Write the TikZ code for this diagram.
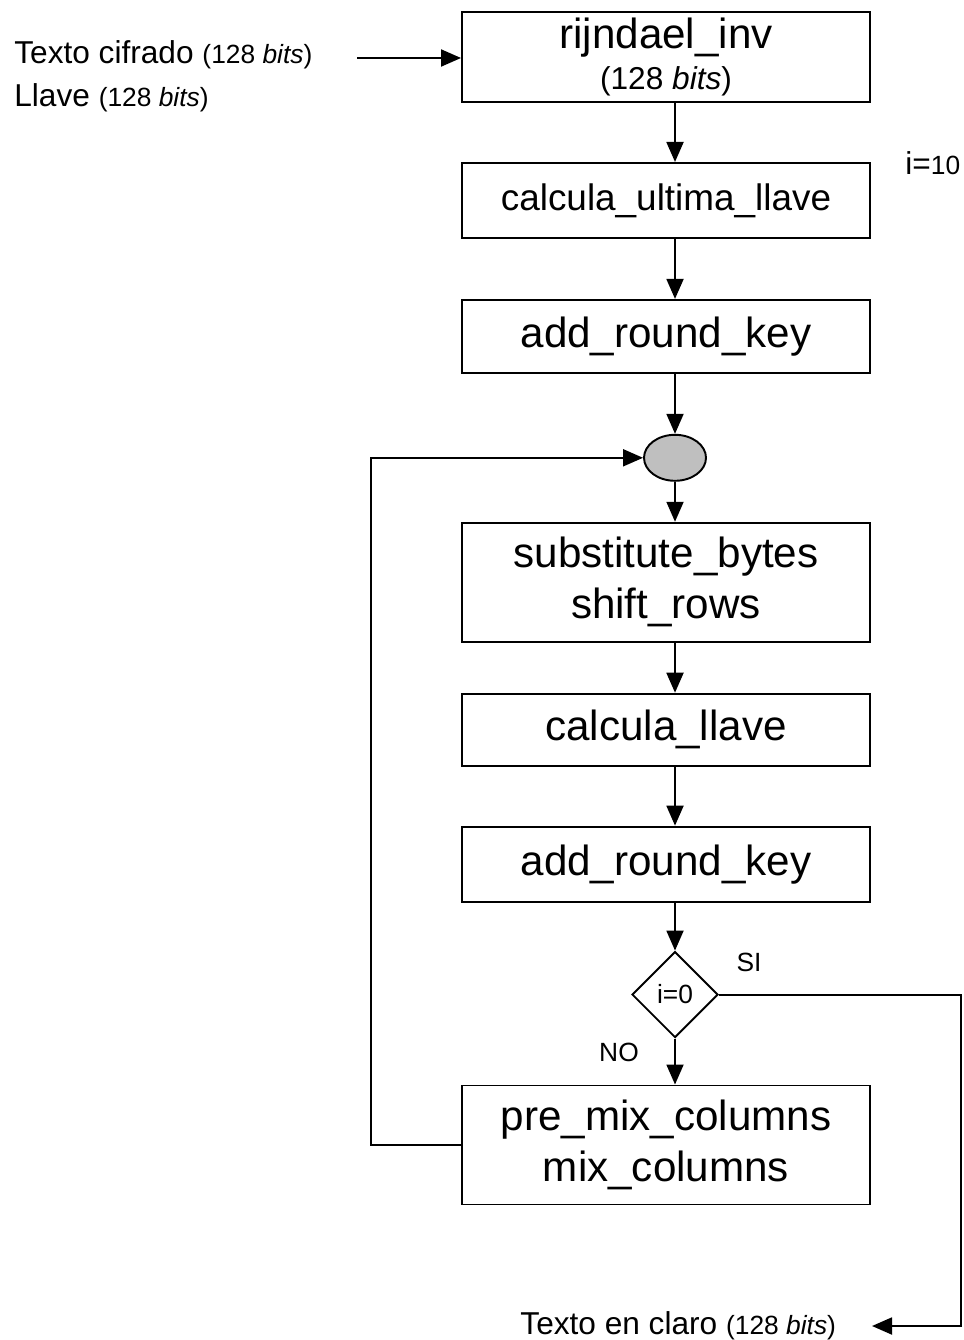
\documentclass[tikz,border=0pt]{standalone}
\usepackage{fontspec}
\setmainfont{Liberation Sans}
\usetikzlibrary{positioning,shapes.geometric,arrows.meta}
\tikzset{
    block/.style = {draw, rectangle, line width=1.1pt,
        minimum width=8.16cm, align=center,
        font=\fontsize{24}{29}\selectfont},
    merge/.style = {draw, ellipse, line width=1.1pt, fill=black!25,
        minimum width=1.24cm, minimum height=0.92cm, inner sep=0pt},
    decision/.style = {draw, diamond, line width=1.1pt, inner sep=0pt,
        minimum width=1.72cm, minimum height=1.72cm,
        font=\fontsize{15}{18}\selectfont},
    arrow/.style = {draw, line width=1.1pt, -{Triangle[length=0.4cm,width=0.34cm]}},
    lbl/.style = {inner sep=0pt, font=\fontsize{15}{18}\selectfont},
    big/.style = {font=\fontsize{18}{24.5}\selectfont}
}
\newcommand{\nbits}{{\fontsize{15}{18}\selectfont(128 \textit{bits})}}

\begin{document}
\begin{tikzpicture}
    \useasboundingbox (0,0) rectangle (19.26,-26.8);
    \node [block, minimum height=1.8cm] (rij) at (13.32,-1.14)
        {rijndael\_inv\\[-6pt]{\fontsize{18}{22}\selectfont(128 \textit{bits})}};
    \node [block, minimum height=1.5cm, below=1.18cm of rij,
        font=\fontsize{21}{25}\selectfont] (ult) {calcula\_ultima\_llave};
    \node [block, minimum height=1.46cm, below=1.2cm of ult] (ark1) {add\_round\_key};
    \node [merge, below=1.2cm of ark1, xshift=0.18cm] (ell) {};
    \node [block, minimum height=2.38cm, below=0.8cm of ell, xshift=-0.18cm] (sub)
        {substitute\_bytes\\shift\_rows};
    \node [block, minimum height=1.44cm, below=1cm of sub] (cll) {calcula\_llave};
    \node [block, minimum height=1.5cm, below=1.18cm of cll] (ark2) {add\_round\_key};
    \node [decision, below=0.96cm of ark2, xshift=0.18cm] (dia) {i=0};
    \node [block, minimum height=2.38cm, below=0.92cm of dia, xshift=-0.18cm] (mix)
        {pre\_mix\_columns\\mix\_columns};

    \node [big, align=left, anchor=north west, inner sep=0pt] (in) at (0.28,-0.8)
        {Texto cifrado \nbits\\Llave \nbits};
    \node [big, anchor=east, inner sep=0pt, outer xsep=0.72cm] (claro) at (17.44,-26.52)
        {Texto en claro \nbits};
    \node [big, anchor=west, inner sep=0pt] (iter) at (18.1,-3.26)
        {i={\fontsize{15}{18}\selectfont 10}};
    \node [lbl] (si) at (14.98,-19.24) {SI};
    \node [lbl] (no) at (12.38,-21.04) {NO};

    \coordinate (inarr) at (7.14,-1.16);
    \draw [arrow] (inarr) -- (rij.west |- inarr);
    \draw [arrow] (rij.south -| ell) -- (ult.north -| ell);
    \draw [arrow] (ult.south -| ell) -- (ark1.north -| ell);
    \draw [arrow] (ark1.south -| ell) -- (ell.north);
    \draw [arrow] (ell.south) -- (sub.north -| ell);
    \draw [arrow] (sub.south -| ell) -- (cll.north -| ell);
    \draw [arrow] (cll.south -| ell) -- (ark2.north -| ell);
    \draw [arrow] (ark2.south -| dia) -- (dia.north);
    \draw [arrow] (dia.south) -- (mix.north -| dia);
    \draw [arrow] (mix.west) -- ++(-1.8,0) |- (ell.west);
    \draw [arrow] (dia.east) -- ++(4.84,0) |- (claro.east);
\end{tikzpicture}
\end{document}
